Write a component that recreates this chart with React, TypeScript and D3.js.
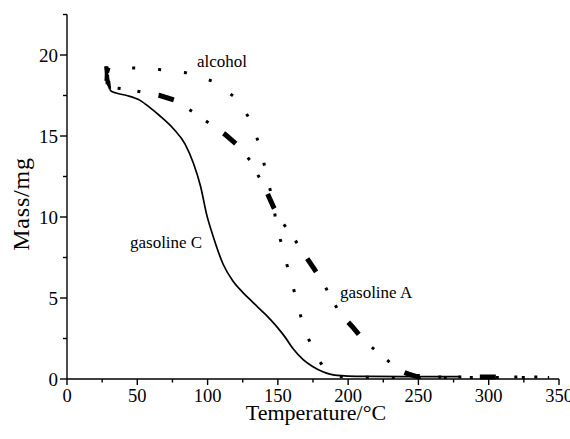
import React from 'react';
import * as d3 from 'd3';

// Temperature (°C) and mass (mg) readings per sample
const gasolineCTemp = [27.5, 28.0, 28.3, 28.6, 29.0, 29.4, 29.8, 30.5, 31, 35, 42.5, 52, 59, 66, 75.7, 84, 90, 95, 99.5, 104, 111, 118, 125, 132.6, 141, 149.5, 155, 161, 168, 175, 182, 187, 192, 200, 215, 240, 280];
const gasolineCMass = [19.3, 18.5, 19.0, 18.2, 18.8, 18.1, 18.4, 17.9, 17.8, 17.65, 17.5, 17.2, 16.75, 16.25, 15.45, 14.5, 13.3, 11.9, 10.1, 8.8, 7.1, 6.05, 5.35, 4.7, 4.0, 3.2, 2.6, 1.85, 1.2, 0.76, 0.45, 0.3, 0.22, 0.18, 0.16, 0.15, 0.15];

const alcoholTemp = [27.5, 28.0, 28.5, 29.0, 30.0, 47, 65.6, 84.6, 103, 121, 131, 137, 141, 145, 148, 151.8, 156, 160.8, 164.9, 170.3, 177.5, 185, 192, 220, 300, 343];
const alcoholMass = [19.3, 19.0, 19.3, 18.9, 19.2, 19.2, 19.1, 18.9, 18.4, 17.3, 15.9, 14.4, 13.0, 11.5, 10.1, 8.6, 7.2, 5.7, 4.26, 2.76, 1.38, 0.4, 0.15, 0.1, 0.1, 0.1];

const gasolineATemp = [27.5, 28.0, 28.5, 29.0, 30.0, 41.3, 54, 66, 77, 89.3, 101, 113, 123, 131, 137, 142, 147, 153, 161, 168, 175, 181.5, 188, 194, 203, 212, 225, 236, 243, 249, 270, 343];
const gasolineAMass = [18.4, 18.9, 18.2, 18.6, 18.0, 17.9, 17.7, 17.5, 17.2, 16.5, 15.8, 15.06, 14.3, 13.4, 12.4, 11.56, 10.6, 9.7, 8.74, 7.8, 6.9, 6.05, 5.0, 4.07, 3.23, 2.3, 1.38, 0.55, 0.3, 0.15, 0.12, 0.12];

const xTickValues = [0, 50, 100, 150, 200, 250, 300, 350];
const xMinorValues = [25, 75, 125, 175, 225, 275, 325];
const yTickValues = [0, 5, 10, 15, 20];
const yMinorValues = [2.5, 7.5, 12.5, 17.5, 22.5];

const seriesLabels = ['alcohol', 'gasoline C', 'gasoline A'];

type P = [number, number];
const zip = (t: number[], m: number[]): P[] => t.map((v, i) => [v, m[i]] as P);

export default function App() {
  const x = d3.scaleLinear().domain([0, 350]).range([67, 559]);
  const y = d3.scaleLinear().domain([0, 22.5]).range([379, 14.5]);
  const lin = d3.line<P>().x(d => x(d[0])).y(d => y(d[1]));
  const smooth = d3.line<P>().x(d => x(d[0])).y(d => y(d[1])).curve(d3.curveMonotoneX);

  const split = (pts: P[]) => {
    const k = pts.findIndex(p => p[0] > 30.5);
    return { head: pts.slice(0, k), tail: pts.slice(Math.max(0, k - 1)) };
  };
  const C = split(zip(gasolineCTemp, gasolineCMass));
  const Al = split(zip(alcoholTemp, alcoholMass));
  const A = split(zip(gasolineATemp, gasolineAMass));

  const font = '"Liberation Serif", "Times New Roman", serif';

  return (
    <svg width={570} height={439} style={{ position: 'absolute', left: 0, top: 0, background: '#fff' }} fontFamily={font}>
      <rect x={0} y={0} width={570} height={439} fill="#fff" />
      {/* starting clusters */}
      {[C.head, Al.head, A.head].map((h, i) => (
        <path key={'h' + i} d={lin(h) || ''} fill="none" stroke="#000" strokeWidth={2.6} />
      ))}
      {/* gasoline C solid */}
      <path d={smooth(C.tail) || ''} fill="none" stroke="#000" strokeWidth={1.7} />
      {/* alcohol dotted */}
      <path d={lin(Al.tail) || ''} fill="none" stroke="#000" strokeWidth={3} strokeDasharray="3 23" strokeDashoffset={3} />
      {/* gasoline A dash-dot-dot */}
      <path d={lin(A.tail) || ''} fill="none" stroke="#000" strokeWidth={3} strokeDasharray="0 34.5 3 17 3 18.5" strokeDashoffset={26} />
      <path d={lin(A.tail) || ''} fill="none" stroke="#000" strokeWidth={5} strokeDasharray="16 60" strokeDashoffset={26} />

      {/* axes */}
      <line x1={x(0)} x2={x(350)} y1={y(0)} y2={y(0)} stroke="#000" strokeWidth={1.4} />
      <line x1={x(0)} x2={x(0)} y1={y(0)} y2={y(22.5)} stroke="#000" strokeWidth={1.4} />
      {xTickValues.map(v => (
        <g key={'xt' + v}>
          <line x1={x(v)} x2={x(v)} y1={y(0)} y2={y(0) + 6} stroke="#000" strokeWidth={1.4} />
          <text x={x(v)} y={402} textAnchor="middle" fontSize={18.5}>{v}</text>
        </g>
      ))}
      {xMinorValues.map(v => (
        <line key={'xm' + v} x1={x(v)} x2={x(v)} y1={y(0)} y2={y(0) + 3.5} stroke="#000" strokeWidth={1.4} />
      ))}
      {yTickValues.map(v => (
        <g key={'yt' + v}>
          <line x1={x(0) - 7} x2={x(0)} y1={y(v)} y2={y(v)} stroke="#000" strokeWidth={1.4} />
          <text x={58} y={y(v) + 6.5} textAnchor="end" fontSize={19}>{v}</text>
        </g>
      ))}
      {yMinorValues.map(v => (
        <line key={'ym' + v} x1={x(0) - 4} x2={x(0)} y1={y(v)} y2={y(v)} stroke="#000" strokeWidth={1.4} />
      ))}
      <text x={316} y={420} textAnchor="middle" fontSize={22}>Temperature/°C</text>
      <text transform={`translate(29,204) rotate(-90)`} textAnchor="middle" fontSize={24} letterSpacing={0.8}>Mass/mg</text>

      {/* annotations */}
      <text x={x(92.5)} y={y(19.26)} fontSize={17}>{seriesLabels[0]}</text>
      <text x={x(44.8)} y={y(8.09)} fontSize={17}>{seriesLabels[1]}</text>
      <text x={x(194.2)} y={y(5.0)} fontSize={17}>{seriesLabels[2]}</text>
    </svg>
  );
}
